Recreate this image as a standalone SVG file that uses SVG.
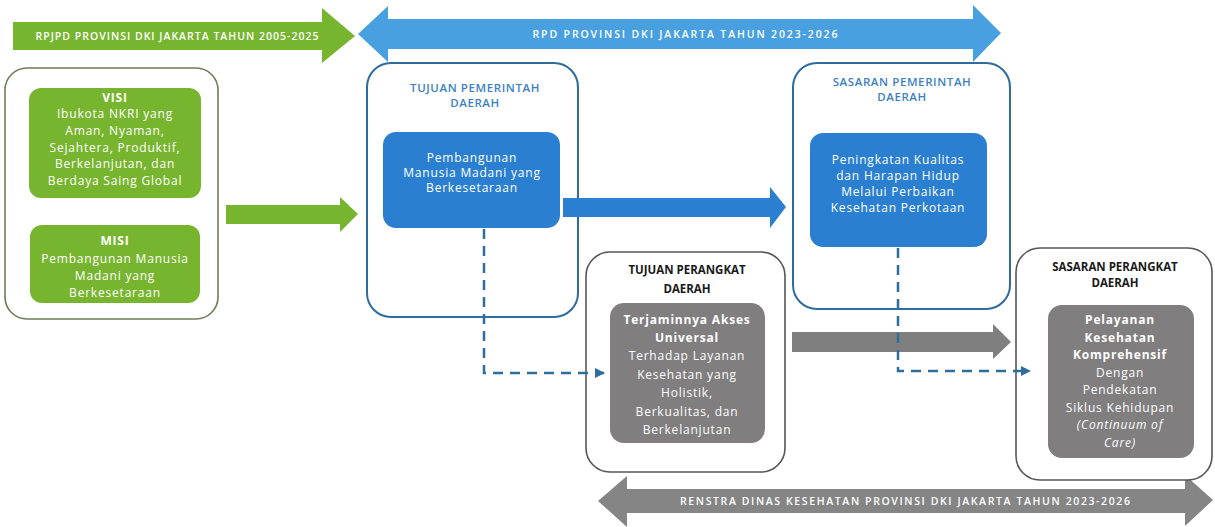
<svg xmlns="http://www.w3.org/2000/svg" width="1215" height="527" viewBox="0 0 1215 527">
<style>
  .banner { font-family: "Open Sans", "Liberation Sans", sans-serif; font-size: 10.5px; font-weight: 600; fill: #ffffff; text-anchor: middle; }
  .wtxt { font-family: "Open Sans", "Liberation Sans", sans-serif; font-size: 12px; fill: #ffffff; text-anchor: middle; letter-spacing: 0.8px; }
  .wb { font-weight: 700; }
  .btitle { font-family: "Open Sans", "Liberation Sans", sans-serif; font-size: 11.5px; font-weight: 600; fill: #3b7fc4; text-anchor: middle; letter-spacing: 0.6px; }
  .ktitle { font-family: "Open Sans", "Liberation Sans", sans-serif; font-size: 11.5px; font-weight: 700; fill: #1a1a1a; text-anchor: middle; }
  .outerG { fill: #ffffff; stroke: #6e7d55; stroke-width: 1.6; }
  .outerB { fill: #ffffff; stroke: #2f6b9c; stroke-width: 2; }
  .outerK { fill: #ffffff; stroke: #555555; stroke-width: 1.6; }
  .green { fill: #77b52f; }
  .blue { fill: #2b7fd0; }
  .lblue { fill: #48a0e0; }
  .gray { fill: #807e7f; }
  .dash { fill: none; stroke: #2e6e9e; stroke-width: 2.5; stroke-dasharray: 10 7; }
</style>
<defs>
  <marker id="ah" viewBox="0 0 10 10" refX="9" refY="5" markerWidth="4" markerHeight="4" orient="auto" markerUnits="strokeWidth">
    <path d="M0,0 L10,5 L0,10 z" fill="#2e6e9e"/>
  </marker>
</defs>
<rect width="1215" height="527" fill="#ffffff"/>

<!-- banners -->
<g id="banner-rpjpd">
  <polygon class="green" points="13,22 322,22 322,8 355,36 322,63 322,50 13,50"/>
  <text class="banner" x="177" y="40" textLength="283" lengthAdjust="spacing">RPJPD PROVINSI DKI JAKARTA TAHUN 2005-2025</text>
</g>
<g id="banner-rpd">
  <polygon class="lblue" points="358,34 388,6 388,19 973,19 973,5 1001,33 973,62 973,49 388,49 388,62"/>
  <text class="banner" x="685" y="37.5" textLength="305" lengthAdjust="spacing">RPD PROVINSI DKI JAKARTA TAHUN 2023-2026</text>
</g>
<g id="banner-renstra">
  <polygon fill="#858585" points="598,501 627,476 627,489 1185,489 1185,475 1213,500 1185,526 1185,513 627,513 627,527"/>
  <text class="banner" x="905" y="505" textLength="450" lengthAdjust="spacing">RENSTRA DINAS KESEHATAN PROVINSI DKI JAKARTA TAHUN 2023-2026</text>
</g>

<!-- Visi Misi -->
<g id="visi-misi">
  <rect class="outerG" x="5" y="68" width="213" height="251" rx="22"/>
  <rect class="green" x="29" y="88" width="172" height="110" rx="12"/>
  <text class="wtxt" x="115" y="101.5"><tspan class="wb">VISI</tspan></text>
  <text class="wtxt" x="115" y="117.5">Ibukota NKRI yang</text>
  <text class="wtxt" x="115" y="134.5">Aman, Nyaman,</text>
  <text class="wtxt" x="115" y="151.5">Sejahtera, Produktif,</text>
  <text class="wtxt" x="115" y="167.5">Berkelanjutan, dan</text>
  <text class="wtxt" x="115" y="184.5">Berdaya Saing Global</text>
  <rect class="green" x="30" y="225" width="170" height="78" rx="12"/>
  <text class="wtxt" x="115" y="244.5"><tspan class="wb">MISI</tspan></text>
  <text class="wtxt" x="115" y="262.5">Pembangunan Manusia</text>
  <text class="wtxt" x="115" y="279.5">Madani yang</text>
  <text class="wtxt" x="115" y="296.5">Berkesetaraan</text>
</g>

<!-- Tujuan Pemerintah Daerah -->
<g id="tujuan-pemerintah">
  <rect class="outerB" x="367" y="63" width="211" height="254" rx="24"/>
  <text class="btitle" x="475" y="92">TUJUAN PEMERINTAH</text>
  <text class="btitle" x="475" y="107">DAERAH</text>
  <rect class="blue" x="383" y="132" width="177" height="96" rx="13"/>
  <text class="wtxt" x="472" y="162">Pembangunan</text>
  <text class="wtxt" x="472" y="177">Manusia Madani yang</text>
  <text class="wtxt" x="472" y="192">Berkesetaraan</text>
</g>

<!-- Sasaran Pemerintah Daerah -->
<g id="sasaran-pemerintah">
  <rect class="outerB" x="793" y="63" width="217" height="246" rx="24"/>
  <text class="btitle" x="902" y="86">SASARAN PEMERINTAH</text>
  <text class="btitle" x="902" y="101">DAERAH</text>
  <rect class="blue" x="810" y="133" width="177" height="114" rx="13"/>
  <text class="wtxt" x="898" y="164">Peningkatan Kualitas</text>
  <text class="wtxt" x="898" y="179.5">dan Harapan Hidup</text>
  <text class="wtxt" x="898" y="196">Melalui Perbaikan</text>
  <text class="wtxt" x="898" y="211.5">Kesehatan Perkotaan</text>
</g>

<!-- Tujuan Perangkat Daerah -->
<g id="tujuan-perangkat">
  <rect class="outerK" x="586" y="252" width="199" height="220" rx="24"/>
  <text class="ktitle" x="687" y="274">TUJUAN PERANGKAT</text>
  <text class="ktitle" x="687" y="293">DAERAH</text>
  <rect class="gray" x="610" y="303" width="155" height="140" rx="14"/>
  <text class="wtxt wb" x="687" y="324">Terjaminnya Akses</text>
  <text class="wtxt wb" x="687" y="341.5">Universal</text>
  <text class="wtxt" x="687" y="360">Terhadap Layanan</text>
  <text class="wtxt" x="687" y="379">Kesehatan yang</text>
  <text class="wtxt" x="687" y="396.5">Holistik,</text>
  <text class="wtxt" x="687" y="416">Berkualitas, dan</text>
  <text class="wtxt" x="687" y="434">Berkelanjutan</text>
</g>

<!-- Sasaran Perangkat Daerah -->
<g id="sasaran-perangkat">
  <rect class="outerK" x="1016" y="248" width="196" height="232" rx="24"/>
  <text class="ktitle" x="1115" y="271">SASARAN PERANGKAT</text>
  <text class="ktitle" x="1115" y="287">DAERAH</text>
  <rect class="gray" x="1048" y="305" width="146" height="153" rx="14"/>
  <text class="wtxt wb" x="1120" y="324">Pelayanan</text>
  <text class="wtxt wb" x="1120" y="342">Kesehatan</text>
  <text class="wtxt wb" x="1120" y="359">Komprehensif</text>
  <text class="wtxt" x="1120" y="377">Dengan</text>
  <text class="wtxt" x="1120" y="394">Pendekatan</text>
  <text class="wtxt" x="1120" y="412">Siklus Kehidupan</text>
  <text class="wtxt" x="1120" y="429" font-style="italic">(Continuum of</text>
  <text class="wtxt" x="1120" y="447" font-style="italic">Care)</text>
</g>

<!-- connectors -->
<g id="connectors">
  <polygon class="green" points="226,205 340,205 340,197 358,214 340,232 340,224 226,224"/>
  <polygon class="blue" points="563,198 770,198 770,187 786,207 770,228 770,217 563,217"/>
  <polygon fill="#7f7f7f" points="792,332 993,332 993,324 1011,342 993,359 993,352 792,352"/>
  <polyline class="dash" points="484,229 484,373 604,373" marker-end="url(#ah)"/>
  <polyline class="dash" points="898,248 898,371 1030,371" marker-end="url(#ah)"/>
</g>
</svg>
